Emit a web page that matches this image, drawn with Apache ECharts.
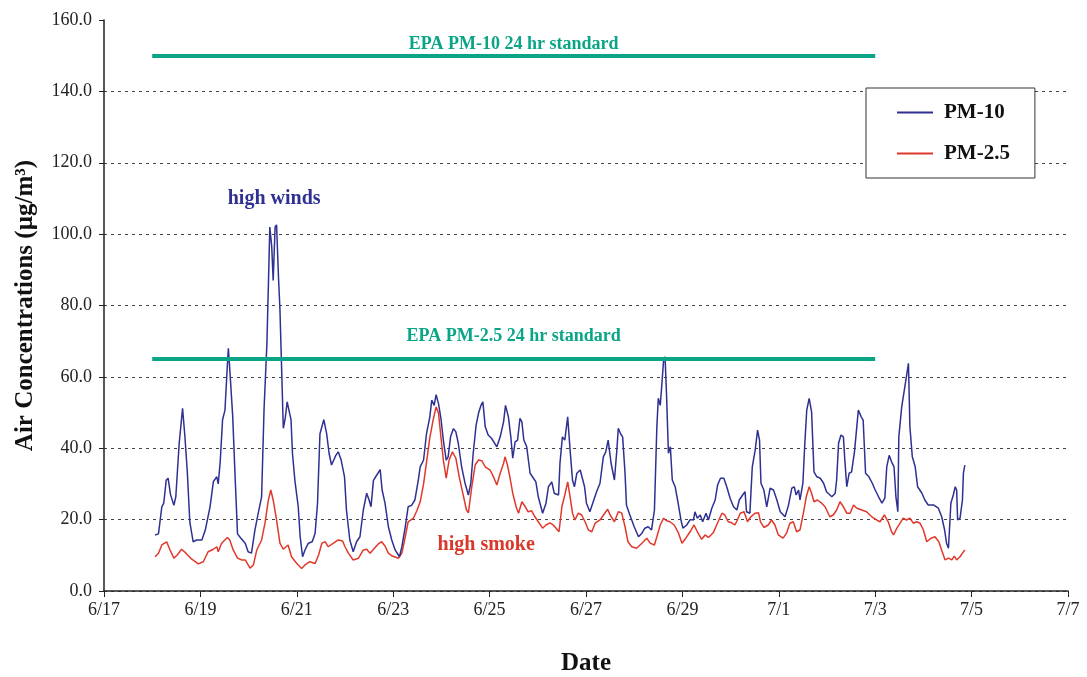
<!DOCTYPE html>
<html><head><meta charset="utf-8">
<script src="https://cdn.jsdelivr.net/npm/echarts@6/dist/echarts.min.js"></script>
<style>html,body{margin:0;padding:0;background:#fff}#c{width:1087px;height:677px}</style>
</head><body><div id="c"></div>
<script>
// x positions are days after 6/17 00:00
const xTickLabels = ['6/17','6/19','6/21','6/23','6/25','6/27','6/29','7/1','7/3','7/5','7/7'];
const yTicks = [0,20,40,60,80,100,120,140,160];

const pm10Days = [1.06,1.13,1.20,1.24,1.29,1.33,1.38,1.42,1.45,1.49,1.56,1.63,1.68,1.73,1.78,1.85,1.92,2.03,2.10,2.20,2.27,2.34,2.37,2.41,2.46,2.51,2.55,2.58,2.61,2.67,2.72,2.77,2.84,2.93,2.99,3.06,3.13,3.20,3.27,3.32,3.38,3.41,3.44,3.48,3.51,3.55,3.58,3.62,3.65,3.69,3.72,3.76,3.80,3.84,3.88,3.91,3.96,4.03,4.07,4.12,4.17,4.24,4.32,4.38,4.43,4.48,4.53,4.56,4.62,4.67,4.72,4.76,4.81,4.86,4.92,4.99,5.03,5.10,5.17,5.24,5.31,5.38,5.45,5.50,5.54,5.59,5.66,5.73,5.77,5.83,5.90,5.97,6.04,6.13,6.18,6.25,6.31,6.38,6.45,6.52,6.56,6.63,6.69,6.76,6.80,6.85,6.89,6.94,6.99,7.04,7.10,7.14,7.19,7.25,7.30,7.35,7.42,7.49,7.56,7.61,7.66,7.72,7.77,7.82,7.86,7.91,7.97,8.04,8.15,8.22,8.29,8.33,8.39,8.44,8.48,8.53,8.58,8.63,8.67,8.71,8.77,8.84,8.91,8.96,9.01,9.10,9.17,9.22,9.29,9.34,9.43,9.46,9.51,9.56,9.62,9.67,9.72,9.76,9.81,9.88,9.91,9.97,10.01,10.08,10.15,10.22,10.29,10.36,10.41,10.46,10.52,10.59,10.64,10.67,10.72,10.76,10.81,10.84,10.91,11.00,11.09,11.16,11.22,11.29,11.36,11.42,11.47,11.50,11.54,11.57,11.61,11.64,11.67,11.71,11.75,11.79,11.85,11.90,11.97,12.01,12.09,12.16,12.23,12.26,12.31,12.37,12.42,12.49,12.54,12.61,12.68,12.73,12.79,12.86,12.92,12.99,13.06,13.13,13.18,13.25,13.30,13.33,13.40,13.45,13.51,13.56,13.60,13.63,13.69,13.75,13.82,13.89,13.96,14.03,14.13,14.20,14.27,14.32,14.36,14.41,14.44,14.50,14.54,14.58,14.63,14.68,14.73,14.79,14.86,14.93,14.99,15.10,15.17,15.20,15.24,15.29,15.34,15.37,15.41,15.46,15.51,15.57,15.60,15.65,15.71,15.75,15.80,15.87,15.94,16.00,16.07,16.14,16.20,16.24,16.29,16.34,16.39,16.43,16.47,16.49,16.55,16.61,16.65,16.69,16.72,16.77,16.83,16.88,16.97,17.03,17.10,17.21,17.31,17.38,17.44,17.48,17.52,17.57,17.62,17.66,17.69,17.71,17.76,17.81,17.83,17.86];
const pm10Values = [15.7,16,23.6,24.6,31,31.6,27,27.4,24,26.4,41.4,51.2,43,33,19.4,13.8,14.3,14.3,17,23.6,30.7,32,30,36,48,50.7,61,68,62,49,32,16,14.8,13.4,11,10.6,17,21.8,26.4,50.7,69.4,85.3,102,96.5,87,102,102.6,88,79,60,45.6,48.4,53,53,48,38.6,31,23.6,15.2,9.6,11.5,13.4,13.8,16.2,24.6,44,46.5,48,44,38.6,35.3,35,38,39,36.7,32,22.7,14.3,11,13.8,15.2,22.7,27.4,25.5,23.6,31,32.5,34,28.3,24.6,18,14.3,11.5,9.6,12.4,18,23.6,24,25.5,31,34.8,36.7,44,48.8,53.5,52,55,52.5,48.4,42.3,36.7,37.6,43.2,45.5,44.6,41.4,34.8,30.2,26.9,30.2,38.6,46.5,49.8,52,53,46,43.7,42.8,40.4,43.2,47.4,52,48.8,43.2,37.2,41.8,42.3,48.4,47.4,42.3,40.4,33,31.6,30.6,26.4,21.8,24.6,29.2,30.6,27.4,26.9,35.8,43.2,42.3,48.8,39.5,31.1,29.2,33,33.9,34.4,29.2,24.6,22.2,25,27.8,30.2,37.6,39,42.3,35.8,31.1,39.5,45.6,44,43.2,33,24,21.3,18,15.2,16.2,17.6,18,17.1,22.7,46,54,52,57.2,64.7,65.6,55.4,38.6,40.4,31.1,29.2,25.5,19.9,17.6,18.5,20,19.9,22.2,20.4,21.3,19.4,21.8,19.9,23.2,25.5,29.7,31.6,31.6,29.2,26,23.6,22.7,25.5,26.9,27.8,22.2,21.8,34.8,39.5,45.1,42.3,30.2,28.3,23.6,28.8,28.3,25.5,22.2,20.8,24,28.8,29.2,26.9,28.3,25.5,30.2,41.4,50.7,54,50.2,33.4,32,31.6,30.2,27.8,26.4,27.4,31.1,41.4,43.7,43.2,36.7,29.2,33,33.4,39,38.6,50.7,48.8,47.9,33,32,30.2,28.3,26.4,24.6,26,34.8,38,36.2,34.8,26.4,22.2,43.2,51.6,56.8,57.2,63.8,46,37.6,34.8,29.2,27.4,25.5,24.1,24.1,23.2,20.8,17.1,13.4,12,24.6,26.9,29.2,28.3,19.9,20.4,25.5,33,35.3];

const pm25Days = [1.06,1.13,1.20,1.30,1.37,1.45,1.52,1.61,1.70,1.82,1.96,2.06,2.16,2.27,2.34,2.37,2.44,2.56,2.61,2.68,2.77,2.86,2.93,3.03,3.10,3.17,3.27,3.34,3.41,3.46,3.51,3.58,3.65,3.72,3.76,3.82,3.89,4.00,4.10,4.17,4.27,4.38,4.45,4.52,4.59,4.65,4.76,4.86,4.95,5.00,5.07,5.17,5.28,5.38,5.45,5.52,5.61,5.69,5.76,5.83,5.90,5.98,6.11,6.18,6.25,6.31,6.42,6.49,6.56,6.63,6.69,6.76,6.83,6.89,6.94,6.99,7.04,7.10,7.16,7.23,7.30,7.37,7.46,7.52,7.56,7.63,7.70,7.77,7.84,7.91,8.01,8.08,8.15,8.22,8.29,8.32,8.37,8.42,8.48,8.55,8.60,8.67,8.74,8.80,8.87,8.94,9.01,9.10,9.17,9.25,9.32,9.36,9.44,9.50,9.56,9.62,9.67,9.72,9.77,9.84,9.91,9.98,10.05,10.12,10.19,10.29,10.39,10.45,10.50,10.59,10.67,10.74,10.81,10.87,10.95,11.05,11.16,11.26,11.33,11.42,11.47,11.54,11.61,11.67,11.74,11.83,11.92,11.99,12.07,12.16,12.24,12.31,12.40,12.47,12.54,12.64,12.71,12.82,12.88,12.95,13.02,13.09,13.14,13.20,13.28,13.35,13.42,13.51,13.58,13.62,13.69,13.78,13.85,13.92,13.99,14.09,14.16,14.23,14.30,14.37,14.44,14.51,14.57,14.63,14.68,14.73,14.80,14.89,14.96,15.06,15.13,15.20,15.27,15.34,15.41,15.48,15.55,15.62,15.72,15.82,15.93,16.03,16.10,16.19,16.27,16.34,16.38,16.45,16.52,16.58,16.65,16.72,16.79,16.86,16.93,17.00,17.07,17.16,17.24,17.32,17.39,17.45,17.52,17.59,17.64,17.69,17.73,17.76,17.81,17.86];
const pm25Values = [9.6,10.6,12.9,13.8,11.5,9.2,10.1,11.7,10.6,8.9,7.6,8.2,11,11.7,12.4,11,13.4,15,14.3,11.5,9.2,8.7,8.7,6.4,7.3,11.5,14.3,19,25.5,28.3,25.5,19.9,13.4,11.7,12,12.9,9.6,7.7,6.3,7.3,8.2,7.7,10,13.4,13.8,12.4,13.4,14.3,14,12.4,10.6,8.7,9.2,11.5,11.7,10.6,12,13.2,13.8,12.6,10.6,9.8,9.2,10.6,15.2,19.4,20.4,22.5,25,30,36,43,48,51.6,49.8,43.2,36.7,31.6,36.7,39,37.2,32,26.4,22.7,21.9,29.2,35.3,36.7,36.5,34.8,33.9,32,29.7,33,35.8,37.6,35.3,32,27.4,23.6,21.8,25,23.6,22.2,22.5,20.8,19.4,17.6,18.5,19.1,18.5,18,16.6,23.6,26.9,30.6,26.4,21.8,19.9,21.8,21.3,19.4,17.1,16.6,19,19.9,21.8,22.9,21.3,19.4,22.2,21.9,18,13.8,12.4,12,13.4,14.8,13.4,12.9,15.2,18.5,20.4,19.7,19.4,18.5,16.2,13.4,14.8,16.6,18.5,16.6,14.5,15.7,15,16.3,18.5,21.8,21.3,19.4,19.1,18.5,19.9,21.8,22.2,19.4,20.8,21.8,21.9,19.4,17.8,18.5,19.9,18.5,15.7,14.8,16.2,19,19.4,16.6,17.1,21.8,26.4,29.2,27.4,25,25.5,24.6,23.6,20.8,21.3,22.7,25,23.6,21.8,21.8,24.1,23.2,22.7,22.2,20.8,19.9,19.4,21.3,19.4,16.6,15.7,17.6,19.1,20.4,19.9,20.4,19,19.4,19,17.1,13.8,14.8,15.2,13.8,11,8.7,9.2,8.7,9.8,8.7,8.2,9.6,10.6,11.5];

const pm10Standard = 150;
const pm25Standard = 65;
const standardFrom = 1;   // 6/18
const standardTo = 16;    // 7/3
const annotations = [
  {text: 'high winds', day: 3.53, value: 110, color: '#2E3192'},
  {text: 'high smoke', day: 7.93, value: 12.9, color: '#D9392C'}
];

const serif = 'Liberation Serif';
const teal = '#0AA586';
const zip = (a, b) => a.map((d, i) => [d, b[i]]);
const stdLabel = {show: true, position: 'middle', color: teal,
  fontFamily: serif, fontWeight: 'bold', fontSize: 18, formatter: p => p.name};

const chart = echarts.init(document.getElementById('c'), null, {renderer: 'canvas'});
chart.setOption({
  animation: false,
  backgroundColor: '#fff',
  grid: {left: 104, right: 19, top: 20, bottom: 86, containLabel: false, outerBoundsMode: 'none'},
  legend: {
    orient: 'vertical', left: 866, top: 88,
    padding: [14, 25, 14, 31], itemGap: 20,
    backgroundColor: '#fff', borderColor: '#333', borderWidth: 1,
    icon: 'rect', itemWidth: 36, itemHeight: 2,
    textStyle: {fontFamily: serif, fontWeight: 'bold', fontSize: 21, color: '#111', padding: [0,0,0,6]},
    data: ['PM-10', 'PM-2.5']
  },
  xAxis: {
    type: 'value', min: 0, max: 20, interval: 2,
    name: 'Date', nameLocation: 'middle', nameGap: 60,
    nameTextStyle: {fontFamily: serif, fontWeight: 'bold', fontSize: 25, color: '#111'},
    axisLine: {lineStyle: {color: '#222', width: 1.5}},
    axisTick: {length: 6, lineStyle: {color: '#222'}},
    axisLabel: {fontFamily: serif, fontSize: 18, color: '#222', margin: 10,
      formatter: v => xTickLabels[Math.round(v / 2)]},
    splitLine: {show: false}
  },
  yAxis: {
    type: 'value', min: 0, max: 160, interval: 20,
    name: 'Air Concentrations (µg/m³)', nameLocation: 'middle', nameGap: 66,
    nameTextStyle: {fontFamily: serif, fontWeight: 'bold', fontSize: 25, color: '#111'},
    axisLine: {show: true, lineStyle: {color: '#222', width: 1.5}},
    axisTick: {show: true, length: 5, lineStyle: {color: '#222'}},
    axisLabel: {fontFamily: serif, fontSize: 18, color: '#222', margin: 12,
      formatter: v => v.toFixed(1)},
    splitLine: {show: true, showMaxLine: false, lineStyle: {color: '#444', width: 1, type: [3, 4]}}
  },
  series: [
    {
      name: 'PM-10', type: 'line', data: zip(pm10Days, pm10Values),
      symbol: 'none', showSymbol: false, z: 3,
      lineStyle: {color: '#2E3192', width: 1.5}, itemStyle: {color: '#2E3192'},
      markLine: {
        silent: true, symbol: ['none', 'none'],
        lineStyle: {color: teal, width: 4, type: 'solid'},
        data: [
          [{coord: [standardFrom, pm10Standard], name: 'EPA PM-10 24 hr standard',
            label: Object.assign({}, stdLabel, {distance: 2})},
           {coord: [standardTo, pm10Standard]}],
          [{coord: [standardFrom, pm25Standard], name: 'EPA PM-2.5 24 hr standard',
            label: Object.assign({}, stdLabel, {distance: 14})},
           {coord: [standardTo, pm25Standard]}]
        ],
        label: stdLabel
      },
      markPoint: {
        silent: true, symbol: 'rect', symbolSize: 1,
        itemStyle: {color: 'rgba(0,0,0,0)'},
        data: annotations.map(a => ({coord: [a.day, a.value], name: a.text,
          label: {show: true, position: 'inside', formatter: a.text, color: a.color,
            fontFamily: serif, fontWeight: 'bold', fontSize: 20}}))
      }
    },
    {
      name: 'PM-2.5', type: 'line', data: zip(pm25Days, pm25Values),
      symbol: 'none', showSymbol: false, z: 2,
      lineStyle: {color: '#E0392B', width: 1.5}, itemStyle: {color: '#E0392B'}
    }
  ]
});
</script></body></html>
